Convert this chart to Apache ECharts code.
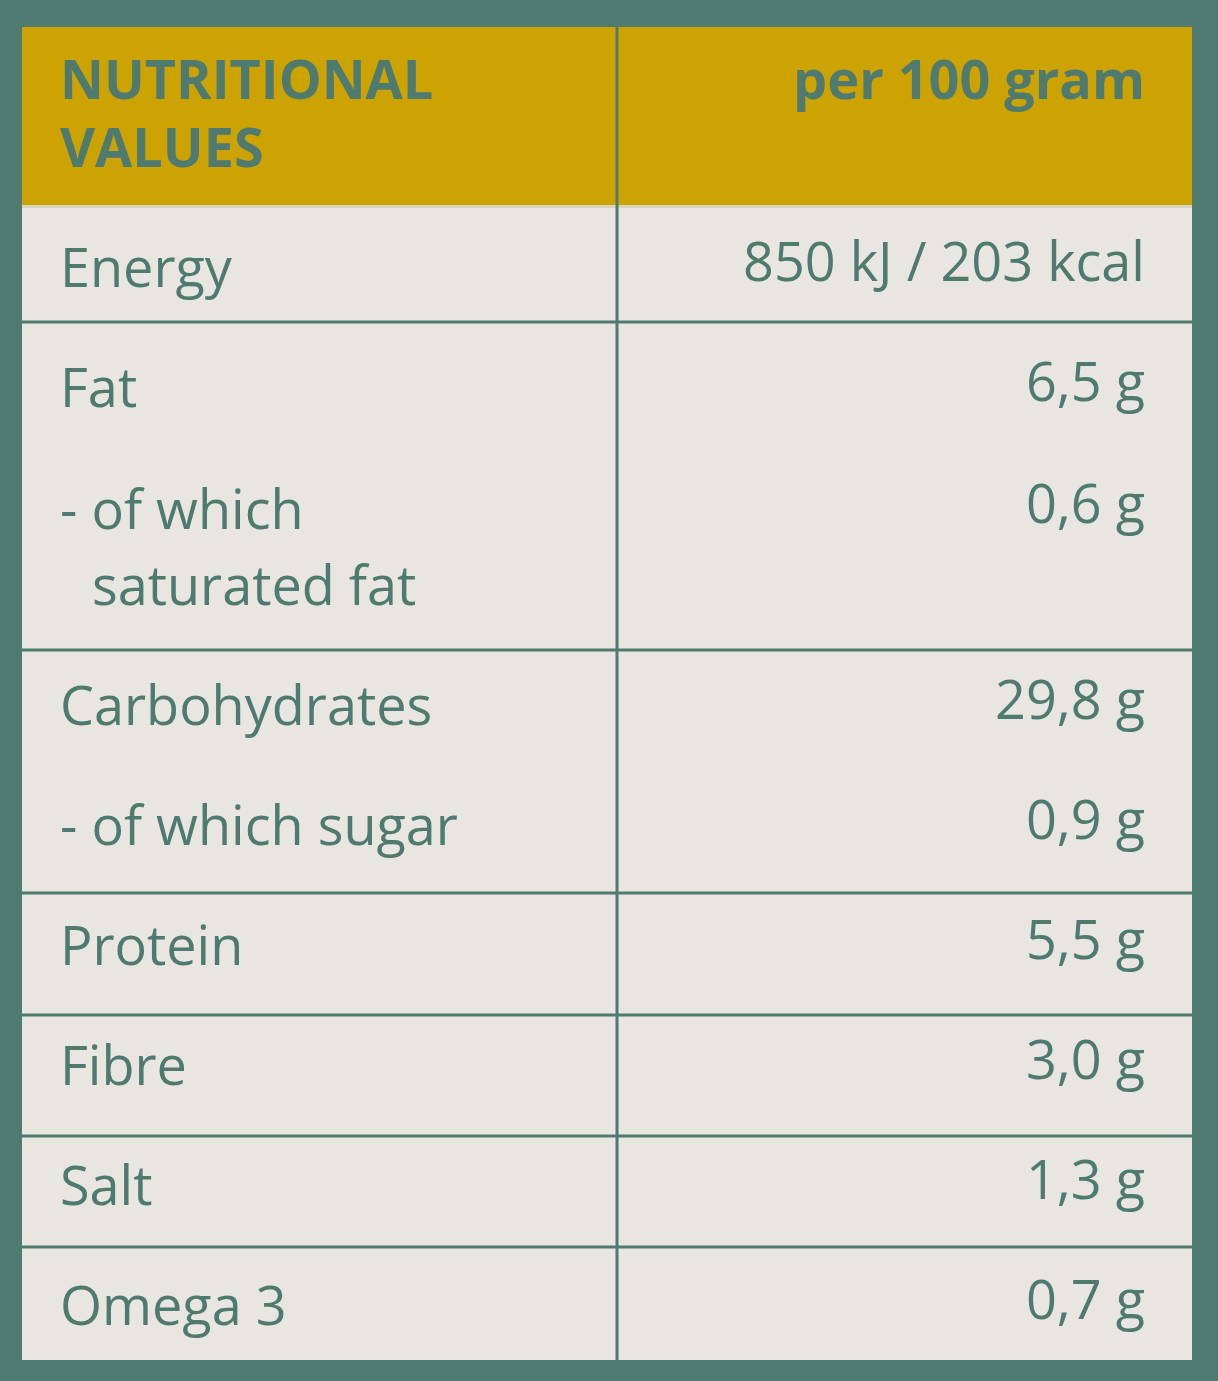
<!DOCTYPE html>
<html><head><meta charset="utf-8">
<script src="https://cdn.jsdelivr.net/npm/echarts@6/dist/echarts.min.js"></script>
<style>html,body{margin:0;padding:0;background:#4f7a70}#c{width:1218px;height:1381px}</style>
</head><body><div id="c"></div>
<script>
const headerLeft = ['NUTRITIONAL', 'VALUES'];
const headerRight = 'per 100 gram';
const nutrients = ['Energy', 'Fat', '- of which\n   saturated fat', 'Carbohydrates', '- of which sugar', 'Protein', 'Fibre', 'Salt', 'Omega 3'];
const amounts = ['850 kJ / 203 kcal', '6,5 g', '0,6 g', '29,8 g', '0,9 g', '5,5 g', '3,0 g', '1,3 g', '0,7 g'];
const groups = [[0], [1, 2], [3, 4], [5], [6], [7], [8]];

// layout
const X0 = 22, X1 = 1192, XM = 617, TXT_L = 60, TXT_R = 1145;
const rowBounds = [208, 322, 650, 893, 1015, 1136, 1247, 1360];
const lineY = [272, 392, 514, 710, 830, 950, 1070, 1190, 1310];
const teal = '#4f7a70', gold = '#cca300', cell = '#e9e5e0';
const font = '"Open Sans", sans-serif';

const els = [];
els.push({type:'rect', shape:{x:X0, y:27, width:X1-X0, height:178}, style:{fill:gold}});
els.push({type:'rect', shape:{x:X0, y:208, width:X1-X0, height:1360-208}, style:{fill:cell}});
groups.forEach((g, i) => {
  if (i > 0) els.push({type:'rect', shape:{x:X0, y:rowBounds[i]-1.5, width:X1-X0, height:3}, style:{fill:teal}});
});
els.push({type:'rect', shape:{x:X0, y:205, width:X1-X0, height:3}, style:{fill:'#d9d3c4'}});
els.push({type:'rect', shape:{x:XM-1.5, y:27, width:3, height:1333}, style:{fill:teal}});
headerLeft.forEach((t, i) => els.push({type:'text', x:TXT_L, y:84+i*68, style:{text:t, fill:teal, font:'bold 54px '+font, textVerticalAlign:'middle', textAlign:'left'}}));
els.push({type:'text', x:TXT_R, y:84, style:{text:headerRight, fill:teal, font:'bold 54px '+font, textVerticalAlign:'middle', textAlign:'right'}});
const f = '54px ' + font;
nutrients.forEach((n, i) => {
  const y = lineY[i];
  if (n.includes('\n')) {
    const parts = n.split('\n');
    els.push({type:'text', x:TXT_L, y:y, style:{text:parts[0], fill:teal, font:f, textVerticalAlign:'middle', textAlign:'left'}});
    els.push({type:'text', x:92, y:y+76, style:{text:parts[1].trim(), fill:teal, font:f, textVerticalAlign:'middle', textAlign:'left'}});
  } else {
    els.push({type:'text', x:TXT_L, y:y, style:{text:n, fill:teal, font:f, textVerticalAlign:'middle', textAlign:'left'}});
  }
  els.push({type:'text', x:TXT_R, y:y-6, style:{text:amounts[i], fill:teal, font:f, textVerticalAlign:'middle', textAlign:'right'}});
});
const chart = echarts.init(document.getElementById('c'));
chart.setOption({backgroundColor:teal, graphic:{elements:els}});
</script></body></html>
